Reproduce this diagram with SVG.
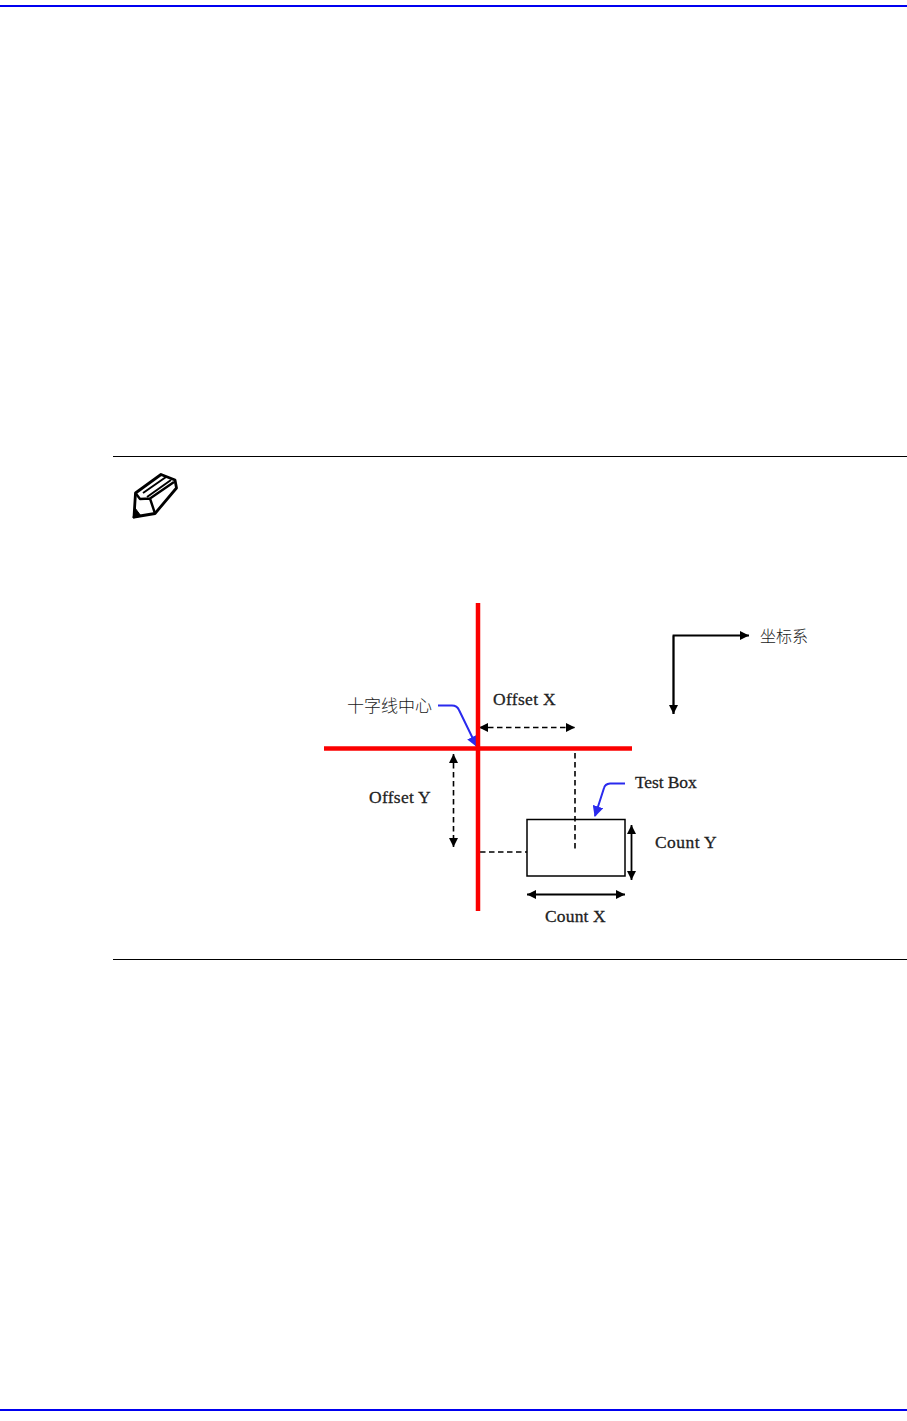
<svg xmlns="http://www.w3.org/2000/svg" width="907" height="1421" viewBox="0 0 907 1421">
<style>
.t{font-family:"Liberation Serif","Times New Roman",serif;font-size:17.5px;fill:#222;stroke:#222;stroke-width:.3;letter-spacing:.25px}
.c{font-family:"Noto Sans CJK SC","Noto Sans CJK JP",sans-serif;fill:#222;font-weight:300}
.k{fill:none;stroke:#000;stroke-width:1.8}
.d{fill:none;stroke:#000;stroke-width:1.6;stroke-dasharray:5.500 3.500}
.b{fill:none;stroke:#2a2aee;stroke-width:2}
.r{stroke:#fb0000;stroke-width:4.500;fill:none}
</style>
<defs>
<marker id="ah" viewBox="0 0 10 10" refX="10" refY="5" markerWidth="10" markerHeight="9" markerUnits="userSpaceOnUse" orient="auto-start-reverse"><path d="M0 0L10 5L0 10Z" fill="#000"/></marker>
<marker id="bh" viewBox="0 0 10 10" refX="9" refY="5" markerWidth="11" markerHeight="11" markerUnits="userSpaceOnUse" orient="auto"><path d="M0 0L10 5L0 10Z" fill="#2a2aee"/></marker>
</defs>
<rect width="907" height="1421" fill="#fff"/>
<g id="page-rules">
<rect x="0" y="5" width="907" height="2" fill="#0000f0"/>
<rect x="0" y="1409" width="907" height="2" fill="#0000f0"/>
<rect x="113" y="456" width="794" height="1" fill="#000"/>
<rect x="113" y="959" width="794" height="1" fill="#000"/>
</g>
<g id="note-icon" fill="none" stroke="#000" stroke-linejoin="round">
<path d="M135.500 493L161 474.500L175 480L176.500 488L155 513.500L134 517Z" stroke-width="2.800"/>
<path d="M135.500 493L140 499L150 498.500L155 513.500M150 498.500L174 482" stroke-width="2.400"/>
<path d="M143 493L166 477M147 497L171 480" stroke-width="2"/>
<path d="M133 518L135 508L141 516Z" fill="#000" stroke-width="1"/>
</g>
<g id="connectors">
<path class="k" d="M673.500 714V635.500H749" marker-end="url(#ah)"/>
<path class="k" d="M673.500 635.500V714" marker-end="url(#ah)"/>
<path class="d" d="M479 727.500H575" marker-start="url(#ah)" marker-end="url(#ah)"/>
<path class="d" d="M453.500 754V847" marker-start="url(#ah)" marker-end="url(#ah)"/>
<path class="d" d="M575 753V849"/>
<path class="d" d="M480 852H527"/>
<path class="k" d="M631.500 825V880" marker-start="url(#ah)" marker-end="url(#ah)"/>
<path class="k" d="M527 894.500H625" marker-start="url(#ah)" marker-end="url(#ah)"/>
<path class="b" d="M438 705.500H452Q457 705.500 459 710L476.500 746" marker-end="url(#bh)"/>
<path class="b" d="M625 783.500H610Q605 784 604 788L595 816" marker-end="url(#bh)"/>
</g>
<g id="crosshair">
<path class="r" d="M478 603V911"/>
<path class="r" d="M324 748.500H632"/>
</g>
<g id="test-box">
<rect x="527" y="819.500" width="98" height="56.500" fill="none" stroke="#000" stroke-width="1.500"/>
</g>
<g id="labels">
<text class="c" x="347" y="711.500" font-size="17">十字线中心</text>
<text class="t" x="493" y="705" textLength="63">Offset X</text>
<text class="t" x="369" y="803" textLength="62">Offset Y</text>
<text class="t" x="635" y="788" textLength="62">Test Box</text>
<text class="t" x="655" y="848" textLength="62">Count Y</text>
<text class="t" x="545" y="922" textLength="61">Count X</text>
<text class="c" x="760" y="642" font-size="16">坐标系</text>
</g>
</svg>
